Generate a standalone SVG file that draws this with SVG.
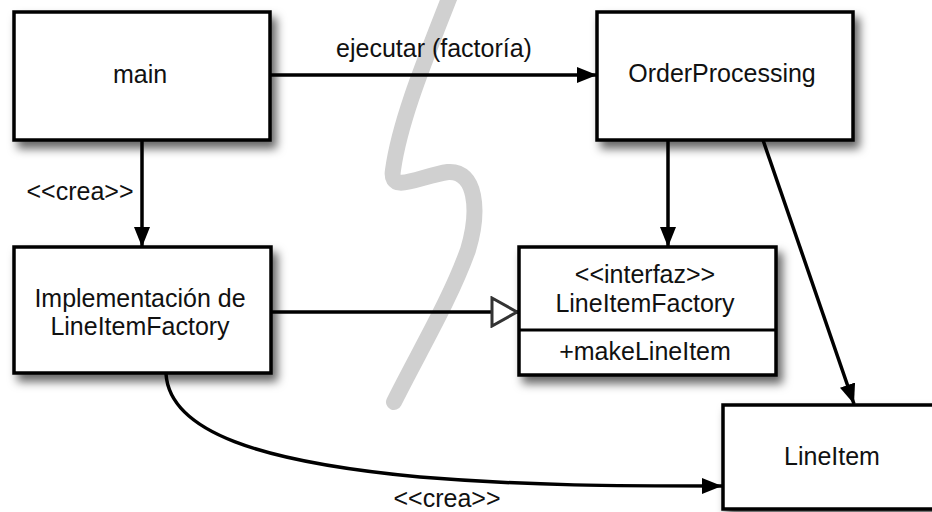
<svg xmlns="http://www.w3.org/2000/svg" width="932" height="512" viewBox="0 0 932 512">
<defs>
<filter id="sh" x="-10%" y="-10%" width="130%" height="140%">
<feDropShadow dx="5" dy="7" stdDeviation="5" flood-color="#000" flood-opacity="0.6"/>
</filter>
<marker id="arr" viewBox="0 0 20 16" refX="20" refY="8" markerWidth="20" markerHeight="16" markerUnits="userSpaceOnUse" orient="auto">
<path d="M0,0 L20,8 L0,16 Z" fill="#000"/>
</marker>
<marker id="tri" viewBox="0 0 30 32" refX="28" refY="16" markerWidth="30" markerHeight="32" markerUnits="userSpaceOnUse" orient="auto">
<path d="M2,2 L27,16 L2,30 Z" fill="#fff" stroke="#333" stroke-width="3" stroke-linejoin="miter"/>
</marker>
</defs>
<style>
.box{fill:#fff;stroke:#000;stroke-width:3.5}
.t{font-family:"Liberation Sans",Arial,sans-serif;font-size:25px;fill:#111;text-anchor:middle}
.c{fill:none;stroke:#000;stroke-width:3.5}
</style>
<rect width="932" height="512" fill="#fff"/>
<path d="M450,-4 C425,60 400,120 393,170 C389,195 420,176 448,172 C476,170 480,210 468,250 C450,300 420,350 394,402" fill="none" stroke="#d0d0d0" stroke-width="16" stroke-linecap="round"/>
<g id="connectors">
<path class="c" d="M270,75 L597,75" marker-end="url(#arr)"/>
<path class="c" d="M142,140 L142,247" marker-end="url(#arr)"/>
<path class="c" d="M668,140 L668,247" marker-end="url(#arr)"/>
<path class="c" d="M763,140 L854,404" stroke-width="3" marker-end="url(#arr)"/>
<path class="c" d="M271,312 L518,312" marker-end="url(#tri)"/>
<path class="c" d="M166,374 C170,432 260,462 420,477 C530,486 620,486 722,486" stroke-width="3" marker-end="url(#arr)"/>
<text class="t" x="434" y="57">ejecutar (factoría)</text>
<text class="t" x="80" y="200">&lt;&lt;crea&gt;&gt;</text>
<text class="t" x="447" y="507">&lt;&lt;crea&gt;&gt;</text>
</g>
<g id="main">
<rect class="box" x="14" y="12" width="256" height="128" filter="url(#sh)"/>
<text class="t" x="140" y="83">main</text>
</g>
<g id="orderProcessing">
<rect class="box" x="597" y="12" width="256" height="128" filter="url(#sh)"/>
<text class="t" x="722" y="82">OrderProcessing</text>
</g>
<g id="implementacion">
<rect class="box" x="14" y="247" width="257" height="126" filter="url(#sh)"/>
<text class="t" x="140" y="307">Implementación de</text>
<text class="t" x="140" y="335">LineItemFactory</text>
</g>
<g id="lineItemFactory">
<rect class="box" x="519" y="247" width="257" height="128" filter="url(#sh)"/>
<line x1="519" y1="330" x2="776" y2="330" stroke="#000" stroke-width="3"/>
<text class="t" x="645" y="283">&lt;&lt;interfaz&gt;&gt;</text>
<text class="t" x="645" y="312">LineItemFactory</text>
<text class="t" x="645" y="360">+makeLineItem</text>
</g>
<g id="lineItem">
<rect class="box" x="723" y="405" width="240" height="104" filter="url(#sh)"/>
<text class="t" x="832" y="465">LineItem</text>
</g>
</svg>
